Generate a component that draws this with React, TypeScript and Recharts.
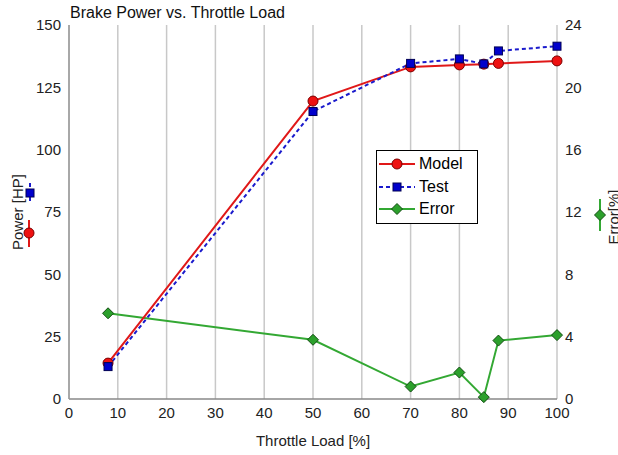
import React from "react";
import { ComposedChart, Line, XAxis, YAxis, CartesianGrid, Legend } from "recharts";

const throttle = [8, 50, 70, 80, 85, 88, 100];
const modelPower = [14.4, 119.5, 133.2, 134.0, 134.3, 134.6, 135.6];
const testPower = [13.0, 115.3, 134.6, 136.4, 134.4, 139.6, 141.5];
const errorPct = [5.5, 3.8, 0.8, 1.7, 0.12, 3.75, 4.1];

const xTicks = [0, 10, 20, 30, 40, 50, 60, 70, 80, 90, 100];
const powerTicks = [0, 25, 50, 75, 100, 125, 150];
const errorTicks = [0, 4, 8, 12, 16, 20, 24];

const data = throttle.map((t, i) => ({
  t,
  model: modelPower[i],
  test: testPower[i],
  error: errorPct[i],
}));

const FONT = "'Liberation Sans', Arial, sans-serif";
const RED = "#e01818";
const BLUE = "#1a1acc";
const GREEN = "#33a833";

const Circle = (p: any) => (
  <circle key={`c-${p.index}`} cx={p.cx} cy={p.cy} r={5} fill="#ee1111" stroke="#7a0000" strokeWidth={1} />
);
const Square = (p: any) => (
  <rect key={`s-${p.index}`} x={p.cx - 4} y={p.cy - 4} width={8} height={8} fill="#0000cc" stroke="#000055" strokeWidth={1} />
);
const Diamond = (p: any) => (
  <path
    key={`d-${p.index}`}
    d={`M${p.cx},${p.cy - 5.5} L${p.cx + 5.5},${p.cy} L${p.cx},${p.cy + 5.5} L${p.cx - 5.5},${p.cy} Z`}
    fill="#2ca02c"
    stroke="#124d12"
    strokeWidth={1}
  />
);

const LegendIcon = ({ kind }: { kind: string }) => (
  <svg width={38} height={16} style={{ display: "block" }}>
    {kind === "model" && (
      <>
        <line x1={1} y1={8} x2={37} y2={8} stroke={RED} strokeWidth={2} />
        <circle cx={19} cy={8} r={5} fill="#ee1111" stroke="#7a0000" />
      </>
    )}
    {kind === "test" && (
      <>
        <line x1={1} y1={8} x2={37} y2={8} stroke={BLUE} strokeWidth={2} strokeDasharray="4 3" />
        <rect x={15} y={4} width={8} height={8} fill="#0000cc" stroke="#000055" />
      </>
    )}
    {kind === "error" && (
      <>
        <line x1={1} y1={8} x2={37} y2={8} stroke={GREEN} strokeWidth={2} />
        <path d="M19,2.5 L24.5,8 L19,13.5 L13.5,8 Z" fill="#2ca02c" stroke="#124d12" />
      </>
    )}
  </svg>
);

const legendItems = [
  { kind: "model", label: "Model" },
  { kind: "test", label: "Test" },
  { kind: "error", label: "Error" },
];

const LegendBox = () => (
  <div
    style={{
      border: "1.5px solid #000",
      background: "#fff",
      width: 102,
      height: 74,
      boxSizing: "border-box",
      padding: "2px 0 0 1px",
      fontFamily: FONT,
      fontSize: 16,
      color: "#000",
    }}
  >
    {legendItems.map((it) => (
      <div key={it.kind} style={{ display: "flex", alignItems: "center", height: 22.5 }}>
        <LegendIcon kind={it.kind} />
        <span style={{ marginLeft: 3 }}>{it.label}</span>
      </div>
    ))}
  </div>
);

const XLabel = (props: any) => {
  const vb = props.viewBox || {};
  return (
    <text x={vb.x + vb.width / 2} y={vb.y + 47} textAnchor="middle" fontSize={15} fontFamily={FONT} fill="#222">
      Throttle Load [%]
    </text>
  );
};

const LeftLabel = () => (
  <g>
    <text
      x={17}
      y={212}
      transform="rotate(-90,17,212)"
      textAnchor="middle"
      dominantBaseline="central"
      fontSize={15}
      fontFamily={FONT}
      fill="#222"
    >
      Power [HP]
    </text>
    <line x1={30} y1={183} x2={30} y2={204} stroke={BLUE} strokeWidth={2} strokeDasharray="4 3" />
    <rect x={26} y={189} width={8} height={8} fill="#0000cc" stroke="#000055" />
    <line x1={29} y1={220} x2={29} y2={247} stroke={RED} strokeWidth={2} />
    <circle cx={29} cy={233} r={5} fill="#ee1111" stroke="#7a0000" />
  </g>
);

const RightLabel = () => (
  <g>
    <text
      x={613}
      y={217}
      transform="rotate(-90,613,217)"
      textAnchor="middle"
      dominantBaseline="central"
      fontSize={15}
      fontFamily={FONT}
      fill="#222"
    >
      Error[%]
    </text>
    <line x1={600} y1={199} x2={600} y2={231} stroke={GREEN} strokeWidth={2} />
    <path d="M600,209.5 L605.5,215 L600,220.5 L594.5,215 Z" fill="#2ca02c" stroke="#124d12" />
  </g>
);

export default function App() {
  return (
    <div style={{ position: "absolute", left: 0, top: 0, width: 618, height: 455, background: "#fff" }}>
      <div
        style={{
          position: "absolute",
          left: 70,
          top: 4,
          fontFamily: FONT,
          fontSize: 16,
          color: "#111",
          whiteSpace: "nowrap",
          zIndex: 2,
        }}
      >
        Brake Power vs. Throttle Load
      </div>
      <ComposedChart width={618} height={455} data={data} margin={{ top: 25, right: 0, left: 0, bottom: 0 }}>
        <CartesianGrid
          yAxisId="left"
          stroke="#c8c8c8"
          strokeWidth={1.5}
          horizontalCoordinatesGenerator={(p: any) => {
            try {
              return [0, 25, 50, 75, 100, 125].map((v) => p.yAxis.scale(v));
            } catch (e) {
              return [];
            }
          }}
        />
        <XAxis
          dataKey="t"
          type="number"
          domain={[0, 100]}
          ticks={xTicks}
          height={56}
          tickLine={false}
          axisLine={{ stroke: "#888", strokeWidth: 1.5 }}
          tick={{ fontSize: 15, fontFamily: FONT, fill: "#222" }}
          interval={0}
          label={<XLabel />}
        />
        <YAxis
          yAxisId="left"
          domain={[0, 150]}
          ticks={powerTicks}
          width={69}
          tickLine={false}
          axisLine={{ stroke: "#999", strokeWidth: 1.5 }}
          tick={{ fontSize: 15, fontFamily: FONT, fill: "#222" }}
          interval={0}
          label={<LeftLabel />}
        />
        <YAxis
          yAxisId="right"
          orientation="right"
          domain={[0, 24]}
          ticks={errorTicks}
          width={61}
          tickLine={false}
          axisLine={false}
          tick={{ fontSize: 15, fontFamily: FONT, fill: "#222" }}
          interval={0}
          label={<RightLabel />}
        />
        <Legend
          layout="vertical"
          align="center"
          verticalAlign="middle"
          content={<LegendBox />}
          wrapperStyle={{ position: "absolute", left: 376, top: 150, width: 102, height: 74 }}
        />
        <Line
          yAxisId="right"
          dataKey="error"
          stroke={GREEN}
          strokeWidth={2}
          dot={Diamond}
          activeDot={false}
          isAnimationActive={false}
        />
        <Line
          yAxisId="left"
          dataKey="model"
          stroke={RED}
          strokeWidth={2}
          dot={Circle}
          activeDot={false}
          isAnimationActive={false}
        />
        <Line
          yAxisId="left"
          dataKey="test"
          stroke={BLUE}
          strokeWidth={2}
          strokeDasharray="4 3"
          dot={Square}
          activeDot={false}
          isAnimationActive={false}
        />
      </ComposedChart>
    </div>
  );
}
